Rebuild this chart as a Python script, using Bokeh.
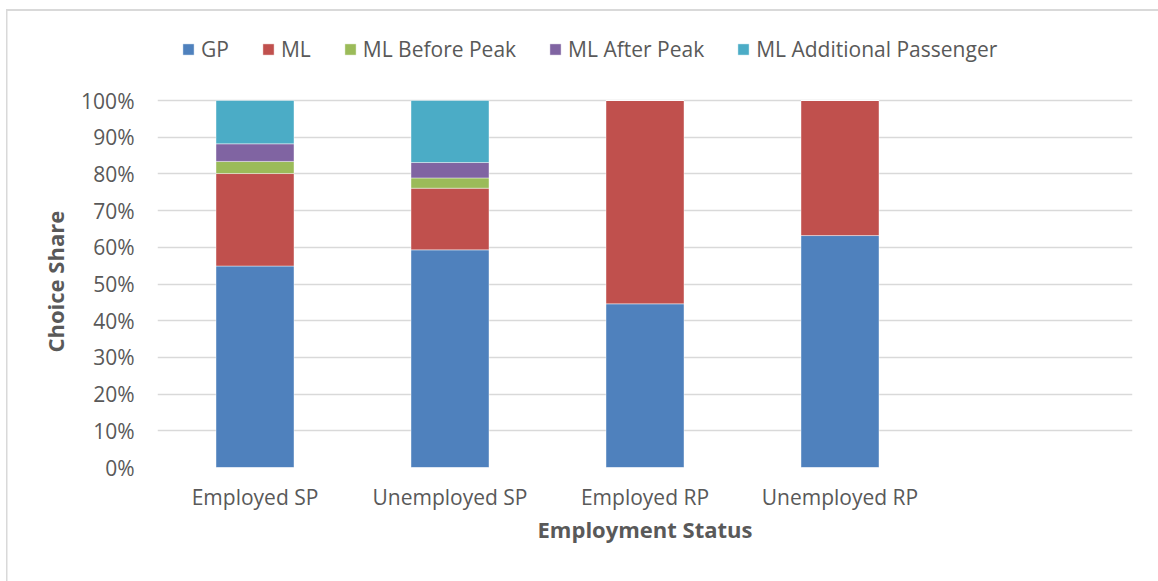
from bokeh.plotting import figure
from bokeh.models import ColumnDataSource, Range1d, FixedTicker, PrintfTickFormatter, Title
from bokeh.embed import file_html
from bokeh.resources import INLINE

categories = ["Employed SP", "Unemployed SP", "Employed RP", "Unemployed RP"]
series = ["GP", "ML", "ML Before Peak", "ML After Peak", "ML Additional Passenger"]
gp = [54.9, 59.3, 44.6, 63.2]
ml = [25.2, 16.8, 55.4, 36.8]
ml_before_peak = [3.3, 2.8, 0.0, 0.0]
ml_after_peak = [4.8, 4.2, 0.0, 0.0]
ml_additional = [11.8, 16.9, 0.0, 0.0]
y_ticks = [0, 10, 20, 30, 40, 50, 60, 70, 80, 90, 100]
colors = ["#4F81BD", "#C0504D", "#9BBB59", "#8064A2", "#4BACC6"]

positions = list(range(1, len(categories) + 1))
source = ColumnDataSource(data={
    "x": positions,
    series[0]: gp,
    series[1]: ml,
    series[2]: ml_before_peak,
    series[3]: ml_after_peak,
    series[4]: ml_additional,
})

FONT = "Open Sans"
TXT = "#595959"

border_css = ("linear-gradient(#d9d9d9,#d9d9d9) 7px 9px / 3000px 2px no-repeat, "
              "linear-gradient(#d9d9d9,#d9d9d9) 6px 9px / 1.5px 3000px no-repeat, white")

# frame extends above 100% so the legend (drawn inside the frame) is not clipped;
# 100% sits at y=100px, 0% at y=467px
TOP_VALUE = 100 * (467 - 20) / (467 - 100)

p = figure(width=1158, height=581, output_backend="svg", toolbar_location=None,
           x_range=Range1d(0.5, 5.5), y_range=Range1d(0, TOP_VALUE),
           styles={"background": border_css})
p.min_border_left = 157
p.min_border_right = 26
p.min_border_top = 20
p.min_border_bottom = 114
p.outline_line_color = None
p.background_fill_alpha = 0
p.border_fill_alpha = 0

p.vbar_stack(series, x="x", width=0.4, color=colors, source=source,
             line_color="white", line_width=0.6, line_alpha=0.7,
             legend_label=series)

# axes
p.xaxis.ticker = FixedTicker(ticks=positions)
p.xaxis.major_label_overrides = {pos: cat for pos, cat in zip(positions, categories)}
p.yaxis.ticker = FixedTicker(ticks=y_ticks)
p.yaxis.formatter = PrintfTickFormatter(format="%d%%")
for ax in (p.xaxis[0], p.yaxis[0]):
    ax.axis_line_color = None
    ax.major_tick_line_color = None
    ax.minor_tick_line_color = None
    ax.major_tick_out = 0
    ax.major_tick_in = 0
    ax.major_label_text_font = FONT
    ax.major_label_text_font_size = "21px"
    ax.major_label_text_color = TXT
    ax.axis_label_text_font = FONT
    ax.axis_label_text_font_size = "22px"
    ax.axis_label_text_font_style = "bold"
    ax.axis_label_text_color = TXT

p.xaxis.axis_label = "Employment Status"
p.xaxis.major_label_standoff = 15
p.xaxis.axis_label_standoff = 0
p.yaxis.major_label_standoff = 23

# y-axis title, centred on the 0-100% part of the frame
ytitle = Title(text="Choice Share", align="left", offset=115, vertical_align="middle",
               text_font=FONT, text_font_size="22px", text_font_style="bold",
               text_color=TXT, standoff=16)
p.add_layout(ytitle, "left")

p.xgrid.grid_line_color = None
p.ygrid.grid_line_color = "#d9d9d9"
p.ygrid.grid_line_width = 1.5

# legend
lg = p.legend[0]
lg.orientation = "horizontal"
lg.location = (24, 404)
lg.padding = 0
lg.margin = 0
lg.spacing = 32
lg.glyph_width = 14
lg.glyph_height = 14
lg.label_height = 14
lg.label_standoff = 6
lg.label_text_font = FONT
lg.label_text_font_size = "21px"
lg.label_text_color = TXT
lg.border_line_color = None
lg.background_fill_alpha = 0

open("out.html", "w").write(file_html(p, INLINE))
